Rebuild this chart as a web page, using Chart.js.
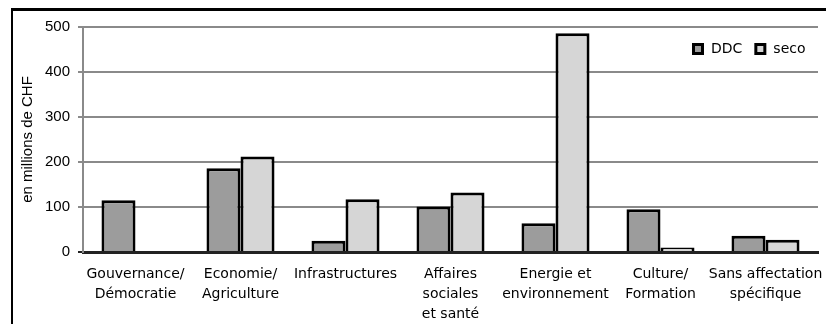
<!DOCTYPE html>
<html>
<head>
<meta charset="utf-8">
<script src="https://cdn.jsdelivr.net/npm/chart.js@4/dist/chart.umd.min.js"></script>
<style>
  html, body { margin: 0; padding: 0; background: #ffffff; }
  #wrap { width: 826px; height: 324px; position: relative; }
</style>
</head>
<body>
<div id="wrap"><canvas id="c" width="826" height="324"></canvas></div>
<script>
// Domains of activity (multi-line axis labels)
const categories = [
  ["Gouvernance/", "Démocratie"],
  ["Economie/", "Agriculture"],
  ["Infrastructures"],
  ["Affaires", "sociales", "et santé"],
  ["Energie et", "environnement"],
  ["Culture/", "Formation"],
  ["Sans affectation", "spécifique"]
];
// Amounts in millions of CHF
const ddcValues  = [115, 186, 25, 101, 64, 95, 36];
const secoValues = [0, 212, 117, 132, 486, 10, 27];
const seriesNames = ["DDC", "seco"];
const yTicks = [0, 100, 200, 300, 400, 500];

const DDC_FILL = "#9c9c9c";
const SECO_FILL = "#d6d6d6";

// Outer frame (top and left edges) and legend, drawn on the canvas
const framePlugin = {
  id: "frame",
  beforeDraw(chart) {
    const ctx = chart.ctx;
    ctx.save();
    ctx.fillStyle = "#ffffff";
    ctx.fillRect(0, 0, chart.width, chart.height);
    ctx.fillStyle = "#000000";
    ctx.fillRect(11, 8, chart.width - 11, 3);
    ctx.fillRect(11, 8, 2, chart.height - 8);
    ctx.restore();
  },
  afterDraw(chart) {
    const ctx = chart.ctx;
    const area = chart.chartArea;
    ctx.save();
    ctx.font = "14px 'DejaVu Sans'";
    ctx.textBaseline = "middle";
    ctx.textAlign = "left";
    const y = area.top + 22;
    let x = area.right - 126;
    chart.data.datasets.forEach((ds) => {
      ctx.fillStyle = "#000000";
      ctx.fillRect(x, y - 6, 12, 12);
      ctx.fillStyle = ds.backgroundColor;
      ctx.fillRect(x + 3, y - 3, 6, 6);
      ctx.fillStyle = "#000000";
      ctx.fillText(ds.label, x + 19, y);
      x += 19 + ctx.measureText(ds.label).width + 12;
    });
    ctx.restore();
  }
};

new Chart(document.getElementById("c"), {
  type: "bar",
  data: {
    labels: categories,
    datasets: [
      {
        label: seriesNames[0],
        data: ddcValues,
        backgroundColor: DDC_FILL,
        borderColor: "#000000",
        borderWidth: 3,
        borderSkipped: "start"
      },
      {
        label: seriesNames[1],
        data: secoValues,
        backgroundColor: SECO_FILL,
        borderColor: "#000000",
        borderWidth: 3,
        borderSkipped: "start"
      }
    ]
  },
  options: {
    responsive: false,
    animation: false,
    events: [],
    categoryPercentage: 0.648,
    barPercentage: 1.0,
    layout: { padding: { left: 0, top: 27, right: 8, bottom: 0 } },
    plugins: {
      legend: { display: false },
      tooltip: { enabled: false },
      title: { display: false }
    },
    scales: {
      x: {
        offset: true,
        grid: { display: false, drawTicks: false },
        border: { display: true, color: "#222222", width: 3 },
        ticks: {
          color: "#000000",
          font: { family: "'DejaVu Sans'", size: 14, lineHeight: 1.45 },
          padding: 12,
          maxRotation: 0,
          autoSkip: false
        },
        afterFit(scale) {
          scale.height = 72;
          scale.paddingLeft = 0;
          scale.paddingRight = 0;
        }
      },
      y: {
        min: 0,
        max: 500,
        afterBuildTicks(scale) {
          scale.ticks = yTicks.map((v) => ({ value: v }));
        },
        grid: {
          color: (c) => (c.tick && c.tick.value === 0 ? "#222222" : "#8a8a8a"),
          lineWidth: 2,
          tickLength: 5,
          drawTicks: true
        },
        border: { display: true, color: "#8a8a8a", width: 2 },
        ticks: {
          color: "#000000",
          font: { family: "'Liberation Sans'", size: 15 },
          padding: 8
        },
        title: {
          display: true,
          text: "en millions de CHF",
          color: "#000000",
          font: { family: "'Liberation Sans'", size: 15 },
          padding: { top: 19, bottom: 0 }
        },
        afterFit(scale) {
          scale.width = 83;
          scale.paddingTop = 0;
          scale.paddingBottom = 0;
        }
      }
    }
  },
  plugins: [framePlugin]
});
</script>
</body>
</html>
